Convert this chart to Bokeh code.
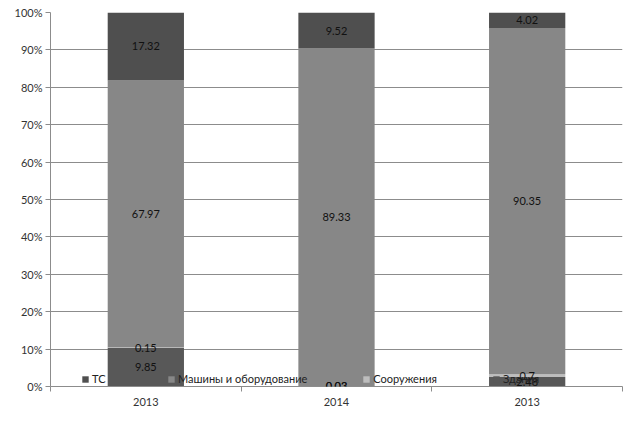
from bokeh.plotting import figure
from bokeh.models import (Range1d, FixedTicker, NumeralTickFormatter, Legend,
                          LegendItem, ColumnDataSource, LabelSet)
from bokeh.core.properties import value
from bokeh.embed import file_html
from bokeh.resources import INLINE

years = ["2013", "2014", "2013"]
series_names = ["Здания", "Сооружения", "Машины и оборудование", "ТС"]
zdaniya = [9.85, 0.02, 2.48]
sooruzheniya = [0.15, 0.03, 0.7]
mashiny = [67.97, 89.33, 90.35]
ts = [17.32, 9.52, 4.02]
colors = ["#585858", "#bdbdbd", "#878787", "#4f4f4f"]

series_vals = [zdaniya, sooruzheniya, mashiny, ts]
n = len(years)
xs = [i + 0.5 for i in range(n)]
totals = [sum(s[i] for s in series_vals) for i in range(n)]

FONT = "Lato"

p = figure(width=624, height=408, x_range=Range1d(0, n), y_range=Range1d(0, 1),
           output_backend="svg", toolbar_location=None,
           min_border_left=50, min_border_right=2, min_border_top=12, min_border_bottom=20)
p.outline_line_color = None
p.background_fill_color = "white"

renderers = []
cum = [0.0] * n
label_x, label_y, label_t = [], [], []
for name, vals, col in zip(series_names, series_vals, colors):
    bottoms = [cum[i] for i in range(n)]
    tops = [cum[i] + vals[i] / totals[i] for i in range(n)]
    src = ColumnDataSource(dict(x=xs, bottom=bottoms, top=tops))
    r = p.vbar(x="x", bottom="bottom", top="top", width=0.4, source=src,
               fill_color=col, line_color=None)
    renderers.append((name, r))
    for i in range(n):
        label_x.append(xs[i])
        label_y.append((bottoms[i] + tops[i]) / 2)
        label_t.append(str(vals[i]))
    cum = tops

# grid & axes
ticks = [i / 10 for i in range(11)]
p.xgrid.grid_line_color = None
p.ygrid.grid_line_color = "#8c8c8c"
p.ygrid.ticker = FixedTicker(ticks=ticks)

p.yaxis.ticker = FixedTicker(ticks=ticks)
p.yaxis.formatter = NumeralTickFormatter(format="0%")
p.yaxis.axis_line_color = "#8c8c8c"
p.yaxis.major_tick_line_color = "#8c8c8c"
p.yaxis.major_tick_in = 0
p.yaxis.major_tick_out = 5
p.yaxis.minor_tick_line_color = None
p.yaxis.major_label_text_font = FONT
p.yaxis.major_label_text_font_size = "11px"
p.yaxis.major_label_text_color = "#333333"
p.yaxis.major_label_standoff = 3

p.xaxis.ticker = FixedTicker(ticks=xs, minor_ticks=list(range(n + 1)))
p.xaxis.major_label_overrides = {x: y for x, y in zip(xs, years)}
p.xaxis.axis_line_color = "#8c8c8c"
p.xaxis.major_tick_line_color = None
p.xaxis.major_tick_in = 0
p.xaxis.major_tick_out = 0
p.xaxis.minor_tick_line_color = "#8c8c8c"
p.xaxis.minor_tick_in = 0
p.xaxis.minor_tick_out = 5
p.xaxis.major_label_text_font = FONT
p.xaxis.major_label_text_font_size = "11px"
p.xaxis.major_label_text_color = "#333333"
p.xaxis.major_label_standoff = 6

# legend (reverse order: ТС first)
items = [LegendItem(label=name, renderers=[r]) for name, r in reversed(renderers)]
legend = Legend(items=items, orientation="horizontal", location=(31, 1),
                glyph_width=8, glyph_height=8, label_height=10, label_standoff=3,
                spacing=55, padding=0, margin=0,
                label_text_font=FONT, label_text_font_size="11px",
                label_text_color="#222222",
                background_fill_alpha=0, border_line_alpha=0)
p.add_layout(legend, "center")

# data labels
lsrc = ColumnDataSource(dict(x=label_x, y=label_y, t=label_t))
labels = LabelSet(x="x", y="y", text="t", source=lsrc, text_align="center",
                  text_baseline="middle", text_font=value(FONT), text_font_size=value("11px"),
                  text_color=value("#111111"))
p.add_layout(labels)

open("out.html", "w").write(file_html(p, INLINE))
